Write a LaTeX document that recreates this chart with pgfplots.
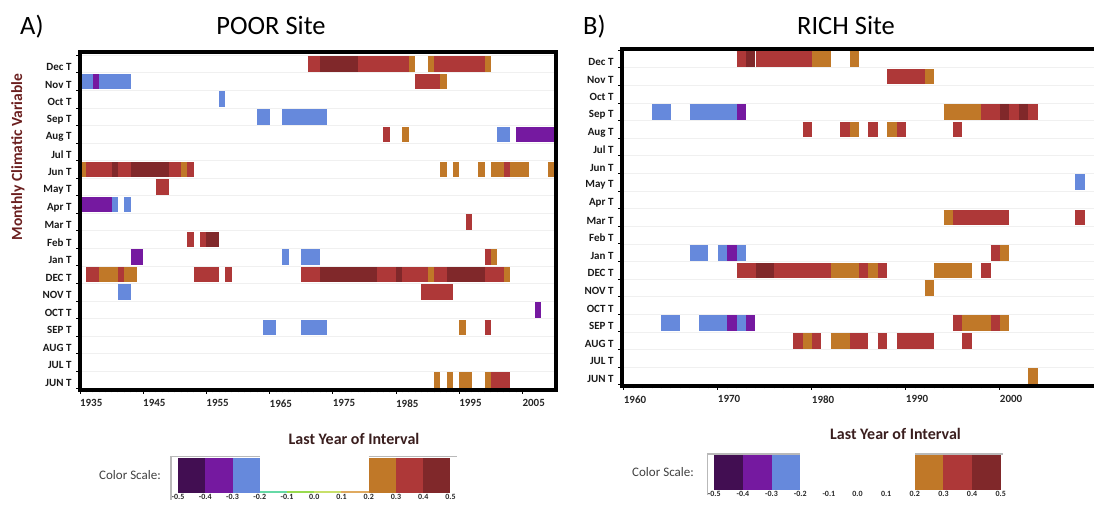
\documentclass[border=0pt]{standalone}
\usepackage{pgfplots}
\pgfplotsset{compat=1.18}
\usepackage{pgfplotstable}
\usepackage{fontspec}
\setmainfont{Carlito}

\definecolor{cdpurple}{HTML}{420E52}
\definecolor{cpurple}{HTML}{7519A0}
\definecolor{cblue}{HTML}{6689DC}
\definecolor{corange}{HTML}{C07828}
\definecolor{cred}{HTML}{AE3838}
\definecolor{cdred}{HTML}{80282A}
\definecolor{labred}{HTML}{6B1F1F}
\definecolor{labdark}{HTML}{3A1E1E}
\definecolor{cgreen}{HTML}{66D9A6}
\definecolor{clgreen}{HTML}{99DA4E}
\definecolor{cygreen}{HTML}{C8E06A}
\definecolor{clorange}{HTML}{E0AA60}

% c: 1 dark purple, 2 purple, 3 blue, 4 orange, 5 red, 6 dark red
% y: 0 = JUN T (bottom) ... 18 = Dec T (top)
\pgfplotstableread{
x0 x1 y c
1971 1973 18 5
1973 1979 18 6
1979 1987 18 5
1987 1988 18 4
1990 1991 18 4
1991 1999 18 5
1999 2000 18 4
1935 1937 17 3
1937 1938 17 2
1938 1943 17 3
1988 1992 17 5
1992 1993 17 4
1957 1958 16 3
1963 1965 15 3
1967 1974 15 3
1983 1984 14 5
1986 1987 14 4
2001 2003 14 3
2004 2010 14 2
1935 1936 12 4
1936 1940 12 5
1940 1941 12 6
1941 1943 12 5
1943 1949 12 6
1949 1951 12 5
1951 1952 12 4
1952 1953 12 5
1992 1993 12 4
1994 1995 12 4
1998 1999 12 4
2000 2002 12 4
2002 2003 12 5
2003 2006 12 4
2009 2010 12 4
1947 1949 11 5
1935 1940 10 2
1940 1941 10 3
1942 1943 10 3
1996 1997 9 5
1952 1953 8 5
1954 1955 8 5
1955 1957 8 6
1943 1945 7 2
1967 1968 7 3
1970 1973 7 3
1999 2000 7 5
2000 2001 7 4
1936 1938 6 5
1938 1941 6 4
1941 1942 6 5
1942 1944 6 4
1953 1957 6 5
1958 1959 6 5
1970 1973 6 5
1973 1982 6 6
1982 1985 6 5
1985 1986 6 6
1986 1990 6 5
1990 1991 6 4
1991 1993 6 5
1993 1999 6 6
1999 2002 6 5
2002 2003 6 4
1941 1943 5 3
1989 1994 5 5
2007 2008 4 2
1964 1966 3 3
1970 1974 3 3
1995 1996 3 4
1999 2000 3 5
1991 1992 0 4
1993 1994 0 4
1995 1997 0 4
1999 2000 0 4
2000 2003 0 5
}\dataA

\pgfplotstableread{
x0 x1 y c
1972 1973 18 5
1973 1974 18 6
1974 1980 18 5
1980 1982 18 4
1984 1985 18 4
1988 1992 17 5
1992 1993 17 4
1963 1965 15 3
1967 1972 15 3
1972 1973 15 2
1994 1998 15 4
1998 2000 15 5
2000 2001 15 6
2001 2002 15 5
2002 2003 15 6
2003 2004 15 5
1979 1980 14 5
1983 1984 14 5
1984 1985 14 4
1986 1987 14 5
1988 1989 14 4
1989 1990 14 5
1995 1996 14 5
2008 2009 11 3
1994 1995 9 4
1995 2001 9 5
2008 2009 9 5
1967 1969 7 3
1970 1971 7 3
1971 1972 7 2
1972 1973 7 3
1999 2000 7 5
2000 2001 7 4
1972 1974 6 5
1974 1976 6 6
1976 1982 6 5
1982 1985 6 4
1985 1986 6 5
1986 1987 6 4
1987 1988 6 5
1993 1997 6 4
1998 1999 6 5
1992 1993 5 4
1964 1966 3 3
1968 1971 3 3
1971 1972 3 2
1972 1973 3 3
1973 1974 3 2
1995 1996 3 5
1996 1999 3 4
1999 2000 3 5
2000 2001 3 4
1978 1979 2 5
1979 1980 2 4
1980 1981 2 5
1982 1984 2 4
1984 1986 2 5
1987 1988 2 5
1989 1993 2 5
1996 1997 2 5
2003 2004 0 4
}\dataB

\pgfplotsset{
  barplot/.style={no markers, line width=15.6pt,
    quiver={u=\thisrow{x1}-\thisrow{x0}, v=0},
    restrict expr to domain={\thisrow{c}}{#1:#1}},
  panel/.style={
    scale only axis, anchor=south west, axis on top,
    axis line style={line width=3.3pt, black},
    tick align=outside, xtick pos=bottom, ytick pos=left,
    major tick length=4pt, minor tick length=2.5pt,
    tick style={black, line width=0.9pt},
    minor x tick num=9,
    /pgf/number format/1000 sep={},
    /pgf/number format/assume math mode=true,
    ytick={-0.5,0.5,...,18.5}, yticklabels={},
    ymajorgrids, major grid style={gray!12, line width=0.8pt},
    extra y ticks={0,1,...,18},
    extra y tick labels={JUN T,JUL T,AUG T,SEP T,OCT T,NOV T,DEC T,Jan T,Feb T,Mar T,Apr T,May T,Jun T,Jul T,Aug T,Sep T,Oct T,Nov T,Dec T},
    extra y tick style={tick style={draw=none}, grid=none},
    yticklabel style={font=\fontsize{11}{12}\selectfont\bfseries, text=black!90, xshift=-1pt, yshift=-3pt},
    xticklabel style={font=\fontsize{11}{12}\selectfont\bfseries, text=black!85, anchor=north west, xshift=-3.5pt, yshift=-2pt},
  },
  cbar/.style={
    scale only axis, anchor=south west, clip=false,
    xmin=-0.5, xmax=0.5, ymin=0, ymax=1,
    axis line style={draw=none}, ytick=\empty,
    xtick={-0.5,-0.4,-0.3,-0.2,-0.1,0,0.1,0.2,0.3,0.4,0.5},
    xticklabels={-0.5,-0.4,-0.3,-0.2,-0.1,0.0,0.1,0.2,0.3,0.4,0.5},
    xtick style={draw=none},
    xticklabel style={font=\fontsize{8}{9}\selectfont\bfseries, text=black!85, inner sep=1.5pt},
  },
}

\begin{document}
\begin{tikzpicture}
\useasboundingbox (0,0) rectangle (1094pt,508pt);

% ---------------- Panel A ----------------
\begin{axis}[panel, at={(80pt,118pt)}, width=476pt, height=338pt,
  xmin=1935, xmax=2010.3, ymin=-0.57, ymax=18.69,
  xtick={1935,1945,...,2005}]
\addplot[barplot=2, draw=cpurple] table[x=x0,y=y] {\dataA};
\addplot[barplot=3, draw=cblue] table[x=x0,y=y] {\dataA};
\addplot[barplot=4, draw=corange] table[x=x0,y=y] {\dataA};
\addplot[barplot=5, draw=cred] table[x=x0,y=y] {\dataA};
\addplot[barplot=6, draw=cdred] table[x=x0,y=y] {\dataA};
\end{axis}

% ---------------- Panel B ----------------
\begin{axis}[panel, at={(622pt,122pt)}, width=480pt, height=337pt,
  xmin=1959.8, xmax=2010.86, ymin=-0.57, ymax=18.57,
  xtick={1960,1970,...,2000}]
\addplot[barplot=2, draw=cpurple] table[x=x0,y=y] {\dataB};
\addplot[barplot=3, draw=cblue] table[x=x0,y=y] {\dataB};
\addplot[barplot=4, draw=corange] table[x=x0,y=y] {\dataB};
\addplot[barplot=5, draw=cred] table[x=x0,y=y] {\dataB};
\addplot[barplot=6, draw=cdred] table[x=x0,y=y] {\dataB};
\draw[color=blue!75!white, line width=1.2pt] ([yshift=1.8pt]rel axis cs:0,0) -- ([yshift=1.8pt]rel axis cs:1,0);
\end{axis}

% ---------------- Colour scale A ----------------
\begin{axis}[cbar, at={(178pt,15pt)}, width=272.5pt, height=35pt]
\addplot[draw=none, fill=cdpurple] coordinates {(-0.5,1) (-0.4,1)} \closedcycle;
\addplot[draw=none, fill=cpurple] coordinates {(-0.4,1) (-0.3,1)} \closedcycle;
\addplot[draw=none, fill=cblue] coordinates {(-0.3,1) (-0.2,1)} \closedcycle;
\addplot[draw=none, fill=cgreen] coordinates {(-0.2,0.07) (-0.1,0.07)} \closedcycle;
\addplot[draw=none, fill=clgreen] coordinates {(-0.1,0.07) (0,0.07)} \closedcycle;
\addplot[draw=none, fill=cygreen] coordinates {(0,0.07) (0.1,0.07)} \closedcycle;
\addplot[draw=none, fill=clorange] coordinates {(0.1,0.07) (0.2,0.07)} \closedcycle;
\addplot[draw=none, fill=corange] coordinates {(0.2,1) (0.3,1)} \closedcycle;
\addplot[draw=none, fill=cred] coordinates {(0.3,1) (0.4,1)} \closedcycle;
\addplot[draw=none, fill=cdred] coordinates {(0.4,1) (0.5,1)} \closedcycle;
\draw[gray!55, line width=1.2pt] (axis cs:-0.526,-0.2) -- (axis cs:-0.526,1.04) -- (axis cs:-0.2,1.04);
\draw[gray!55, line width=1.2pt] (axis cs:0.2,1.04) -- (axis cs:0.523,1.04);
\end{axis}

% ---------------- Colour scale B ----------------
\begin{axis}[cbar, at={(714.3pt,18pt)}, width=286.4pt, height=35pt]
\addplot[draw=none, fill=cdpurple] coordinates {(-0.5,1) (-0.4,1)} \closedcycle;
\addplot[draw=none, fill=cpurple] coordinates {(-0.4,1) (-0.3,1)} \closedcycle;
\addplot[draw=none, fill=cblue] coordinates {(-0.3,1) (-0.2,1)} \closedcycle;
\addplot[draw=none, fill=corange] coordinates {(0.2,1) (0.3,1)} \closedcycle;
\addplot[draw=none, fill=cred] coordinates {(0.3,1) (0.4,1)} \closedcycle;
\addplot[draw=none, fill=cdred] coordinates {(0.4,1) (0.5,1)} \closedcycle;
\draw[gray!55, line width=1.2pt] (axis cs:-0.523,-0.15) -- (axis cs:-0.523,1.03) -- (axis cs:-0.2,1.03);
\draw[gray!55, line width=1.2pt] (axis cs:0.2,1.03) -- (axis cs:0.508,1.03);
\end{axis}

% ---------------- Texts ----------------
\node[anchor=base west, font=\fontsize{26.5}{30}\selectfont, inner sep=0pt] at (20pt,473pt) {A)};
\node[anchor=base, font=\fontsize{26.5}{30}\selectfont, inner sep=0pt] at (271pt,473pt) {POOR Site};
\node[anchor=base west, font=\fontsize{26.5}{30}\selectfont, inner sep=0pt] at (583pt,473pt) {B)};
\node[anchor=base, font=\fontsize{26.5}{30}\selectfont, inner sep=0pt] at (846pt,473pt) {RICH Site};
\node[rotate=90, font=\fontsize{15.5}{17}\selectfont\bfseries, text=labred, inner sep=0pt] at (18pt,351pt) {Monthly Climatic Variable};
\node[font=\fontsize{16}{18}\selectfont\bfseries, text=labdark, inner sep=0pt] at (354pt,69pt) {Last Year of Interval};
\node[font=\fontsize{16}{18}\selectfont\bfseries, text=labdark, inner sep=0pt] at (895.5pt,74pt) {Last Year of Interval};
\node[font=\fontsize{13}{15}\selectfont, text=black!75, inner sep=0pt] at (130pt,33pt) {Color Scale:};
\node[font=\fontsize{13}{15}\selectfont, text=black!75, inner sep=0pt] at (663pt,36pt) {Color Scale:};
\end{tikzpicture}
\end{document}
